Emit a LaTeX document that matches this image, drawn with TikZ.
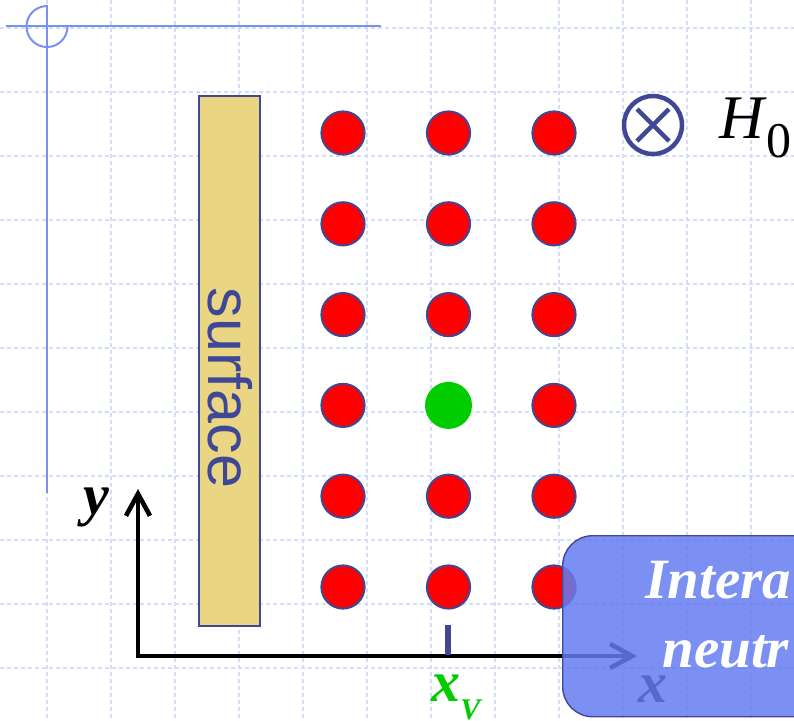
\documentclass[tikz,border=0pt]{standalone}
\usepackage{fontspec}
\newfontfamily\tnr{Liberation Serif}
\newfontfamily\arl{Liberation Sans}
\usepackage{tikz}
\usetikzlibrary{arrows.meta,positioning}
\definecolor{inkblue}{RGB}{63,72,150}
\definecolor{lineblue}{RGB}{123,143,240}
\definecolor{gridblue}{RGB}{212,220,250}
\definecolor{sandy}{RGB}{234,213,131}
\definecolor{dotgreen}{RGB}{0,204,0}
\definecolor{boxblue}{RGB}{100,124,240}

\begin{document}
\begin{tikzpicture}[x=0.5pt,y=-0.5pt,>={Straight Barb[length=11pt,width=12pt]},
  gridline/.style={gridblue,line width=0.55pt,dash pattern=on 2pt off 1.5pt},
  frameline/.style={lineblue,line width=1pt},
  idot/.style={circle,draw=inkblue,line width=1pt,fill=red,minimum size=21.6pt,inner sep=0pt},
  vdot/.style={circle,fill=dotgreen,minimum size=23.5pt,inner sep=0pt},
  axis/.style={line width=2.3pt,black,line join=miter},
  lab/.style={font=\tnr\bfseries\itshape\fontsize{29}{29}\selectfont,inner sep=0pt},
  notebox/.style={draw=inkblue,line width=0.7pt,fill=boxblue,fill opacity=0.85,rounded corners=15pt,
    minimum width=170pt,minimum height=90.5pt,inner sep=0pt},
  notetext/.style={white,font=\tnr\bfseries\itshape\fontsize{28.5}{28.5}\selectfont,inner sep=0pt}]
  \useasboundingbox (0,0) rectangle (794,720);
  \begin{scope}
  \clip (0,0) rectangle (794,720);
  % background grid
  \foreach \gx in {47,111,...,751}
    \draw[gridline] (\gx,0) -- (\gx,720);
  \foreach \gy in {28,92,...,668}
    \draw[gridline] (0,\gy) -- (794,\gy);

  % slide corner mark
  \draw[frameline] (6,26) -- (381,26);
  \draw[frameline] (47,5) -- (47,493);
  \draw[frameline] (47,6) arc[start angle=270,end angle=0,radius=20.5];

  % surface
  \node[draw=inkblue,line width=0.7pt,fill=sandy,minimum width=30.5pt,minimum height=265pt,inner sep=0pt]
    (wall) at (229.5,361) {};
  \node[rotate=-90,inkblue,font=\arl\fontsize{30.5}{30.5}\selectfont,inner sep=0pt]
    (walltext) at (230,388) {surface};

  % lattice of atoms
  \foreach \r in {1,...,6}
    \foreach \c in {1,2,3}{
      \ifnum\r\c=42
        \node[vdot] (a-\r-\c) at ({343+105.5*(\c-1)},{133+90.8*(\r-1)}) {};
      \else
        \node[idot] (a-\r-\c) at ({343+105.5*(\c-1)},{133+90.8*(\r-1)}) {};
      \fi}

  % field into the page
  \node[circle,draw=inkblue,line width=2.25pt,minimum size=29pt,inner sep=0pt] (field) at (653,125) {};
  \draw[inkblue,line width=2.25pt] (field.center) +(-16,-16) -- +(16,16) +(-16,16) -- +(16,-16);
  \node[anchor=base west,inner sep=0pt] (hzero) at (719,138)
    {\tnr\itshape\fontsize{31}{31}\selectfont H\kern1pt\raisebox{-9.5pt}{\upshape\fontsize{25}{25}\selectfont 0}};

  % axes
  \coordinate (O) at (138,656);
  \coordinate (ytip) at (138,489);
  \coordinate (xtip) at (637,656);
  \coordinate (xv) at (448,655);
  \draw[axis,<->] (ytip) -- (O) -- (xtip);
  \draw[inkblue,line width=2.6pt] (xv) -- ++(0,-30);
  \node[lab] (ylab) at (96,507) {y};
  \node[lab,anchor=base west] (xlab) at (638,702) {x};
  \node[lab,dotgreen,anchor=base west] (xvlab) at (431,701)
    {x\raisebox{-9pt}{\fontsize{15}{15}\selectfont V}};

  % note
  \node[notebox,anchor=north west] (note) at (562,535) {};
  \node[notetext,anchor=base west] (line1) at (645,598) {Intera};
  \node[notetext,anchor=base west] (line2) at (662,667) {neutr};
  \end{scope}
\end{tikzpicture}
\end{document}
